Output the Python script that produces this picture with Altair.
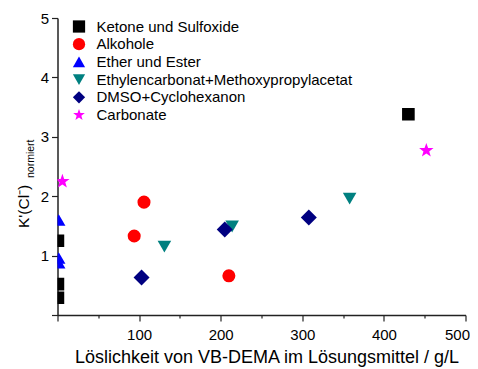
import altair as alt
import pandas as pd

groups = ["Ketone und Sulfoxide", "Alkohole", "Ether und Ester",
          "Ethylencarbonat+Methoxypropylacetat", "DMSO+Cyclohexanon", "Carbonate"]
colors = ["#000000", "#FF0000", "#0000FF", "#008080", "#000080", "#FF00FF"]
star = ("M0,-1 L0.235,-0.324 L0.951,-0.309 L0.380,0.124 L0.588,0.809 L0,0.4 "
        "L-0.588,0.809 L-0.380,0.124 L-0.951,-0.309 L-0.235,-0.324 Z")
shapes = ["square", "circle", "triangle-up", "triangle-down", "diamond", star]
sizes = [160, 170, 180, 185, 256, 230]

ket_x = [430, 0.5, 0.5, 0.5]
ket_y = [3.38, 1.25, 0.52, 0.29]
alk_x = [106, 94, 210]
alk_y = [1.90, 1.33, 0.66]
eth_x = [1.5, 1.5, 1.5]
eth_y = [1.60, 0.96, 0.88]
ec_x = [131, 214, 358]
ec_y = [1.15, 1.49, 1.96]
dm_x = [103, 205, 308]
dm_y = [0.63, 1.44, 1.64]
car_x = [6, 452]
car_y = [2.25, 2.77]

xs = [ket_x, alk_x, eth_x, ec_x, dm_x, car_x]
ys = [ket_y, alk_y, eth_y, ec_y, dm_y, car_y]
size_of = dict(zip(groups, sizes))
rows = []
for g, xx, yy in zip(groups, xs, ys):
    for a, b in zip(xx, yy):
        rows.append({"x": a, "y": b, "g": g, "s": size_of[g]})
df = pd.DataFrame(rows)

x_title = "Löslichkeit von VB-DEMA im Lösungsmittel / g/L"
y_main = "K'(Cl⁻)"
y_sub = "normiert"

x_ticks = [i * 50 for i in range(11)]
y_ticks = [i * 0.5 for i in range(11)]

points = alt.Chart(df).mark_point(filled=True, opacity=1, clip=True, strokeWidth=0).encode(
    x=alt.X("x:Q", scale=alt.Scale(domain=[0, 500], nice=False, zero=False),
            axis=alt.Axis(values=x_ticks, title=x_title, format="d",
                          labelExpr="datum.value % 100 == 0 && datum.value > 0 ? datum.label : ''",
                          tickSize={"condition": {"test": "datum.value % 100 == 0", "value": 6}, "value": 3},
                          labelFlush=True, labelFlushOffset=4, labelOverlap=False, labelPadding=6.5,
                          titleBaseline="alphabetic", titleY=47, titleX=209, titleAlign="center",
                          titleFontSize=18)),
    y=alt.Y("y:Q", scale=alt.Scale(domain=[0, 5], nice=False, zero=False),
            axis=alt.Axis(values=y_ticks, title=None, format="d",
                          labelExpr="datum.value % 1 == 0 && datum.value > 0 ? datum.label : ''",
                          tickSize={"condition": {"test": "datum.value % 1 == 0", "value": 6}, "value": 3},
                          labelFlush=False, labelOverlap=False, labelPadding=3)),
    color=alt.Color("g:N", scale=alt.Scale(domain=groups, range=colors),
                    legend=alt.Legend(title=None, orient="none", legendX=14, legendY=1,
                                      labelFontSize=15, symbolSize=150, rowPadding=1.7,
                                      labelFont="Liberation Sans", labelOffset=10,
                                      labelLimit=0, symbolStrokeWidth=0)),
    shape=alt.Shape("g:N", scale=alt.Scale(domain=groups, range=shapes), legend=alt.Legend(title=None)),
    size=alt.Size("s:Q", scale=None, legend=None),
)

t1 = alt.Chart(pd.DataFrame({"t": [y_main]})).mark_text(
    angle=270, align="left", baseline="alphabetic", fontSize=15.5, font="Liberation Sans", color="black"
).encode(text="t:N", x=alt.value(-29), y=alt.value(210))
t2 = alt.Chart(pd.DataFrame({"t": [y_sub]})).mark_text(
    angle=270, align="left", baseline="alphabetic", fontSize=10.5, font="Liberation Sans", color="black"
).encode(text="t:N", x=alt.value(-24), y=alt.value(160))

chart = alt.layer(points, t1, t2).properties(
    width=408, height=297,
    autosize=alt.AutoSizeParams(type="none"),
    padding={"left": 49.5, "top": 10, "right": 4.5, "bottom": 52},
).configure_view(stroke=None).configure_axis(
    grid=False, domainColor="#222", domainWidth=1.5, tickColor="#222", tickWidth=1.2,
    labelFont="Liberation Sans", labelFontSize=15, labelColor="black",
    titleFont="Liberation Sans", titleFontSize=16, titleFontWeight="normal", titleColor="black",
)

chart.save("out.html", embed_options={"renderer": "svg", "actions": False})
